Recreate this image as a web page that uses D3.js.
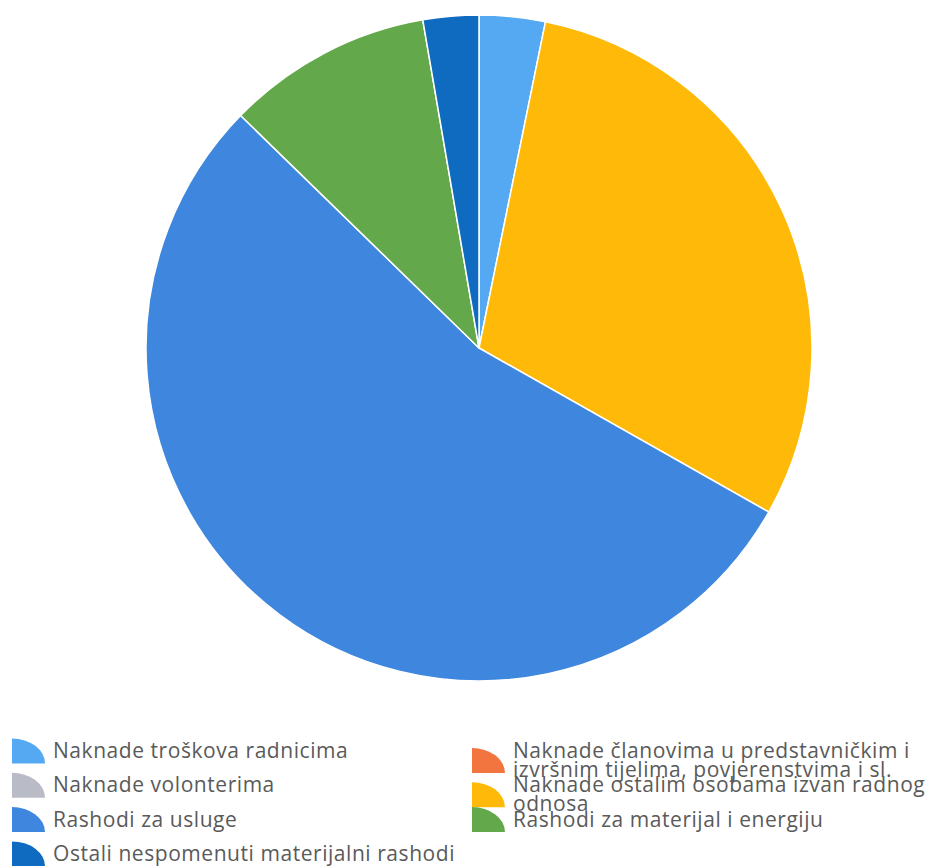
<!DOCTYPE html>
<html>
<head>
<meta charset="utf-8">
<script src="https://cdn.jsdelivr.net/npm/d3@7"></script>
<style>
  html, body { margin: 0; padding: 0; background: #ffffff; }
  svg { display: block; }
</style>
</head>
<body>
<svg id="chart" width="939" height="866"></svg>
<script>
// ---- data ----
const categories = [
  "Naknade troškova radnicima",
  "Naknade članovima u predstavničkim i izvršnim tijelima, povjerenstvima i sl.",
  "Naknade volonterima",
  "Naknade ostalim osobama izvan radnog odnosa",
  "Rashodi za usluge",
  "Rashodi za materijal i energiju",
  "Ostali nespomenuti materijalni rashodi"
];
const values = [3.2, 0, 0, 30.0, 54.1, 10.0, 2.7];
const colors = ["#55a9f2", "#f2743e", "#b9bcc6", "#ffb908", "#3e86de", "#63a94b", "#0f6bbf"];

// ---- layout ----
const W = 939, H = 866;
const cx = 479, cy = 348, R = 333;
const svg = d3.select("#chart");

const pie = d3.pie().value(d => d.value).sort(null);
const arc = d3.arc().innerRadius(0).outerRadius(R);
const data = categories.map((c, i) => ({ name: c, value: values[i], color: colors[i] }));

svg.append("g")
  .attr("transform", `translate(${cx},${cy})`)
  .selectAll("path")
  .data(pie(data).filter(d => d.data.value > 0))
  .join("path")
  .attr("d", arc)
  .attr("fill", d => d.data.color)
  .attr("stroke", "#ffffff")
  .attr("stroke-width", 1.5)
  .attr("stroke-linejoin", "round");

// ---- legend ----
const fontFamily = "'Open Sans', 'DejaVu Sans', sans-serif";
const fontSize = 21;
const textColor = "#5a5a5a";
const colText = [53, 513];
const colMarker = [12, 472];
const rowBase = 758, rowPitch = 34.3, lineGap = 19;
const maxWidth = 422;

// calibrate letter spacing so the longest single-line label matches target width
const probe = svg.append("text")
  .attr("font-family", fontFamily).attr("font-size", fontSize)
  .text(categories[6]);
const natural = probe.node().getComputedTextLength();
probe.remove();
const chars = categories[6].length;
const letterSpacing = (402 - natural) / chars;

const measure = svg.append("text")
  .attr("font-family", fontFamily).attr("font-size", fontSize)
  .attr("letter-spacing", letterSpacing);
function width(s) { measure.text(s); return measure.node().getComputedTextLength(); }
function wrap(s) {
  const words = s.split(" ");
  const lines = [];
  let cur = "";
  for (const w of words) {
    const t = cur ? cur + " " + w : w;
    if (width(t) > maxWidth && cur) { lines.push(cur); cur = w; }
    else cur = t;
  }
  if (cur) lines.push(cur);
  return lines;
}

const legend = svg.append("g");
data.forEach((d, i) => {
  const col = i % 2, row = Math.floor(i / 2);
  const lines = wrap(d.name);
  const y0 = rowBase + row * rowPitch;
  const baselines = lines.map((_, k) => y0 + k * lineGap);
  const mid = d3.mean(baselines) - 7;
  const mw = 33, mh = 25;
  const mx = colMarker[col], my = mid - mh / 2;
  legend.append("path")
    .attr("d", `M${mx},${my + mh} L${mx},${my} A${mw},${mh} 0 0 1 ${mx + mw},${my + mh} Z`)
    .attr("fill", d.color);
  const t = legend.append("text")
    .attr("font-family", fontFamily)
    .attr("font-size", fontSize)
    .attr("letter-spacing", letterSpacing)
    .attr("fill", textColor);
  lines.forEach((ln, k) => {
    t.append("tspan").attr("x", colText[col]).attr("y", baselines[k]).text(ln);
  });
});
measure.remove();
</script>
</body>
</html>
